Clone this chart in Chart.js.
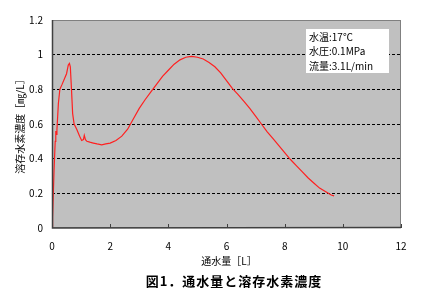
<!DOCTYPE html>
<html><head><meta charset="utf-8">
<script src="https://cdn.jsdelivr.net/npm/chart.js@4/dist/chart.umd.min.js"></script>
<style>html,body{margin:0;padding:0;background:#fff;}#wrap{width:421px;height:292px;}</style>
</head><body><div id="wrap"><canvas id="c" width="421" height="292"></canvas></div>
<script>
const waterVolume = [0,0.02,0.07,0.11,0.13,0.15,0.17,0.22,0.27,0.35,0.45,0.5,0.56,0.6,0.63,0.67,0.71,0.76,0.85,0.95,1.02,1.08,1.11,1.15,1.2,1.3,1.42,1.55,1.71,1.85,2.0,2.2,2.4,2.6,2.8,3.0,3.2,3.4,3.6,3.8,4.0,4.2,4.4,4.6,4.8,5.0,5.2,5.4,5.6,5.8,6.0,6.2,6.4,6.6,6.8,7.0,7.2,7.4,7.6,7.8,8.0,8.2,8.4,8.6,8.8,9.0,9.2,9.4,9.6,9.7];
const h2Conc = [0,0.06,0.33,0.5,0.56,0.54,0.57,0.72,0.8,0.83,0.87,0.89,0.94,0.95,0.93,0.8,0.66,0.6,0.57,0.53,0.505,0.51,0.535,0.51,0.5,0.495,0.49,0.485,0.48,0.485,0.49,0.505,0.53,0.57,0.63,0.69,0.74,0.785,0.83,0.875,0.91,0.945,0.97,0.985,0.99,0.985,0.975,0.955,0.93,0.895,0.85,0.805,0.77,0.73,0.69,0.645,0.6,0.555,0.515,0.475,0.435,0.395,0.36,0.325,0.29,0.26,0.23,0.21,0.19,0.185];
const xTicks = [0,2,4,6,8,10,12];
const yTicks = [0,0.2,0.4,0.6,0.8,1,1.2];
const xTitle = '通水量［L］';
const yTitle = '溶存水素濃度［㎎/L］';
const caption = '図1．通水量と溶存水素濃度';
const infoLines = ['水温:17℃','水圧:0.1MPa','流量:3.1L/min'];

const FONT = '"Noto Sans CJK JP", "DejaVu Sans", sans-serif';
const points = waterVolume.map((x,i)=>({x:x,y:h2Conc[i]}));

const decor = {
  id:'decor',
  beforeDraw(chart){
    const a = chart.chartArea, ctx = chart.ctx;
    ctx.save();
    ctx.fillStyle = '#c0c0c0';
    ctx.fillRect(a.left, a.top, a.right-a.left, a.bottom-a.top);
    ctx.restore();
  },
  afterDraw(chart){
    const a = chart.chartArea, ctx = chart.ctx;
    const xs = chart.scales.x;
    ctx.save();
    ctx.strokeStyle = '#808080'; ctx.lineWidth = 1;
    ctx.strokeRect(a.left+0.5, a.top+0.5, a.right-a.left-1, a.bottom-a.top-1);
    ctx.strokeStyle = '#404040'; ctx.lineWidth = 1.5;
    ctx.beginPath(); ctx.moveTo(a.left+0.5, a.top); ctx.lineTo(a.left+0.5, a.bottom); ctx.lineTo(a.right, a.bottom-0.5); ctx.stroke();
    ctx.lineWidth = 1;
    xTicks.forEach(v=>{ const px = Math.round(xs.getPixelForValue(v))+0.5; ctx.beginPath(); ctx.moveTo(px,a.bottom); ctx.lineTo(px,a.bottom-4); ctx.stroke(); });
    // info box
    ctx.fillStyle = '#fff';
    ctx.fillRect(306, 29, 83, 44);
    ctx.fillStyle = '#000';
    ctx.font = '10px ' + FONT;
    ctx.textBaseline = 'middle'; ctx.textAlign = 'left';
    infoLines.forEach((t,i)=>ctx.fillText(t, 309, 37 + i*14.5));
    // axis titles
    ctx.textAlign = 'center';
    ctx.fillText(xTitle, 229, 261);
    ctx.save();
    ctx.translate(20, 124); ctx.rotate(-Math.PI/2);
    ctx.fillText(yTitle, 0, 0);
    ctx.restore();
    ctx.font = 'bold 13px ' + FONT;
    ctx.letterSpacing = '1px';
    ctx.fillText(caption, 234, 281);
    ctx.restore();
  }
};

new Chart(document.getElementById('c'), {
  type:'scatter',
  data:{datasets:[{data:points, showLine:true, borderColor:'#ff2020', backgroundColor:'#ff2020', borderWidth:1.2, pointRadius:0, tension:0}]},
  options:{
    responsive:false, animation:false, devicePixelRatio:1,
    layout:{padding:{left:0, top:20, right:20, bottom:0}},
    plugins:{legend:{display:false}, tooltip:{enabled:false}},
    scales:{
      x:{type:'linear', min:0, max:12,
        afterBuildTicks(s){ s.ticks = xTicks.map(v=>({value:v})); },
        afterFit(s){ s.height = 64; },
        grid:{display:false, drawTicks:false},
        border:{display:false},
        ticks:{padding:12, color:'#000', font:{family:FONT, size:10}, maxRotation:0, callback:v=>String(v)}
      },
      y:{type:'linear', min:0, max:1.2,
        afterBuildTicks(s){ s.ticks = yTicks.map(v=>({value:v})); },
        afterFit(s){ s.width = 52; },
        grid:{drawTicks:false, color:(c)=> (c.tick && (c.tick.value===0 || Math.abs(c.tick.value-1.2)<1e-9)) ? 'rgba(0,0,0,0)' : '#000', lineWidth:1},
        border:{display:false, dash:[3,2]},
        ticks:{padding:9, color:'#000', font:{family:FONT, size:10}, callback:v=>String(Math.round(v*10)/10)}
      }
    }
  },
  plugins:[decor]
});
</script>
</body></html>
